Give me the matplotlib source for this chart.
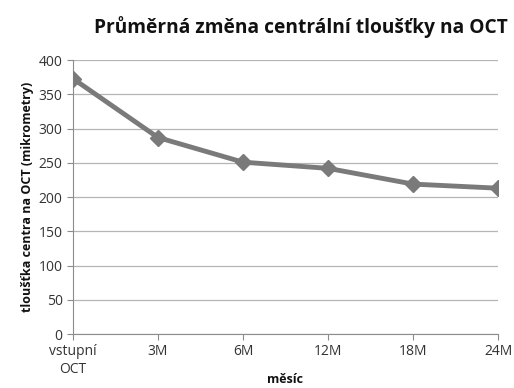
import matplotlib.pyplot as plt

months = ["vstupní\nOCT", "3M", "6M", "12M", "18M", "24M"]
thickness = [373, 287, 251, 242, 219, 213]
y_ticks = [0, 50, 100, 150, 200, 250, 300, 350, 400]

plt.rcParams["font.family"] = ["Open Sans", "DejaVu Sans"]

fig = plt.figure(figsize=(5.14, 3.88), dpi=100)
ax = fig.add_axes([0.142, 0.139, 0.827, 0.706])

x = range(len(months))
ax.plot(x, thickness, color="#7a7a7a", linewidth=3.5, marker="D",
        markersize=8, markerfacecolor="#7a7a7a", markeredgecolor="#7a7a7a", zorder=3)

ax.set_xlim(0, len(months) - 1)
ax.set_ylim(0, 400)
ax.set_yticks(y_ticks)
ax.set_xticks(list(x))
ax.set_xticklabels(months)
ax.grid(axis="y", color="#b5b5b5", linewidth=0.9)
ax.set_axisbelow(True)

for side in ["top", "right"]:
    ax.spines[side].set_visible(False)
for side in ["left", "bottom"]:
    ax.spines[side].set_color("#8c8c8c")
ax.tick_params(axis="both", colors="#8c8c8c", labelcolor="#333333",
               labelsize=10, length=4, direction="out")

ax.set_ylabel("tloušťka centra na OCT (mikrometry)", fontsize=9,
              fontweight="bold", color="#111111", labelpad=3)
# x label sits below the two-line first tick label
fig.text(0.555, 0.022, "měsíc", ha="center", va="center", fontsize=9,
         fontweight="bold", color="#111111")
fig.suptitle("Průměrná změna centrální tloušťky na OCT", x=0.585, y=0.96,
             fontsize=13.8, fontweight="bold", color="#111111")

fig.savefig("out.png", dpi=100, facecolor="white")
